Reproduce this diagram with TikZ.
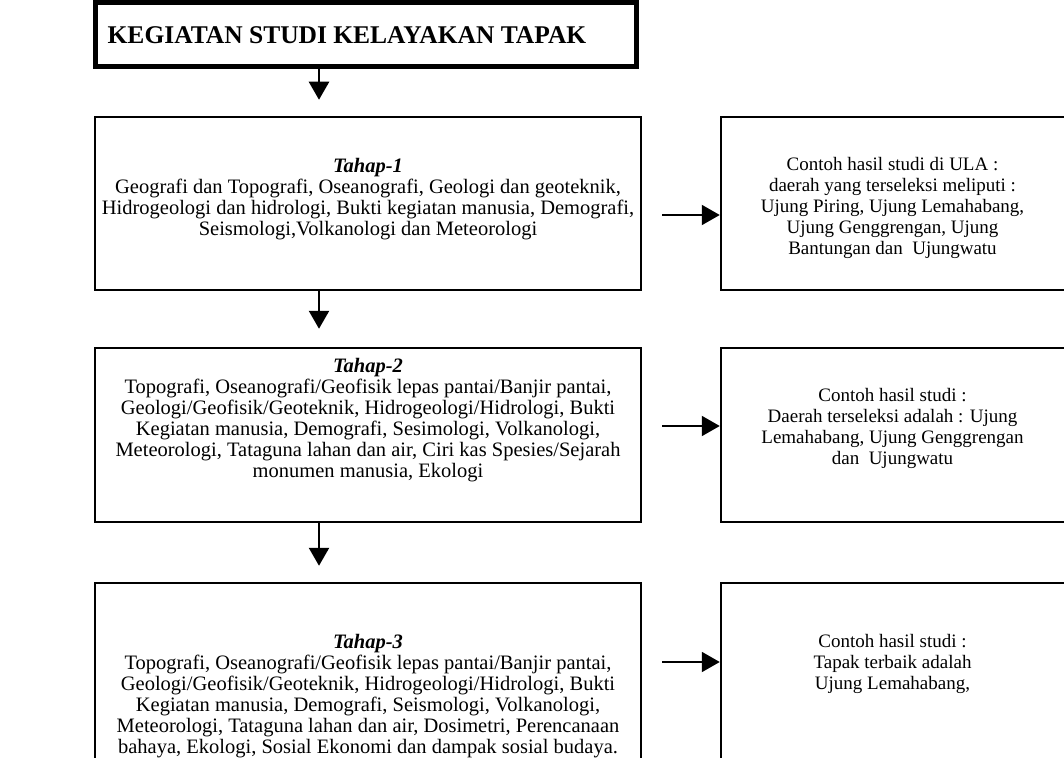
\documentclass[tikz,border=0pt]{standalone}
\usepackage{fontspec}
\setmainfont{Liberation Serif}
\usetikzlibrary{arrows.meta}
\begin{document}
\begin{tikzpicture}[x=1pt,y=1pt,
  frame/.style={draw=black, line width=2.5pt, inner sep=0pt},
  body/.style={align=center, font=\fontsize{20.5}{21}\selectfont, inner sep=0pt},
  side/.style={align=center, font=\fontsize{19}{21}\selectfont, inner sep=0pt},
  vconn/.style={line width=2.5pt, -{Triangle[width=20pt,length=18pt]}},
  hconn/.style={line width=2pt, -{Triangle[width=20pt,length=18pt]}}
]
\useasboundingbox (0,0) rectangle (1064,-757);
\clip (0,0) rectangle (1064,-757);

% title
\node[frame, line width=5pt, minimum width=541pt, minimum height=64pt] (title) at (365.5,-35) {};
\node[font=\fontsize{25.5}{28}\selectfont\bfseries, inner sep=0pt] (titletxt) at (347,-35) {KEGIATAN STUDI KELAYAKAN TAPAK};

% left column boxes
\node[frame, minimum width=546pt, minimum height=173pt] (t1) at (368,-203.5) {};
\node[frame, minimum width=546pt, minimum height=174pt] (t2) at (368,-435) {};
\node[frame, minimum width=546pt, minimum height=217pt] (t3) at (368,-691.5) {};

% right column boxes
\node[frame, minimum width=349pt, minimum height=173pt] (r1) at (895.5,-203.5) {};
\node[frame, minimum width=349pt, minimum height=174pt] (r2) at (895.5,-435) {};
\node[frame, minimum width=349pt, minimum height=217pt] (r3) at (895.5,-691.5) {};

% texts
\node[body] (t1txt) at (368,-199.5) {\textbf{\textit{Tahap-1}}\\
Geografi dan Topografi, Oseanografi, Geologi dan geoteknik,\\
Hidrogeologi dan hidrologi, Bukti kegiatan manusia, Demografi,\\
Seismologi,Volkanologi dan Meteorologi};

\node[body] (t2txt) at (368,-420.5) {\textbf{\textit{Tahap-2}}\\
Topografi, Oseanografi/Geofisik lepas pantai/Banjir pantai,\\
Geologi/Geofisik/Geoteknik, Hidrogeologi/Hidrologi, Bukti\\
Kegiatan manusia, Demografi, Sesimologi, Volkanologi,\\
Meteorologi, Tataguna lahan dan air, Ciri kas Spesies/Sejarah\\
monumen manusia, Ekologi};

\node[body] (t3txt) at (368,-696) {\textbf{\textit{Tahap-3}}\\
Topografi, Oseanografi/Geofisik lepas pantai/Banjir pantai,\\
Geologi/Geofisik/Geoteknik, Hidrogeologi/Hidrologi, Bukti\\
Kegiatan manusia, Demografi, Seismologi, Volkanologi,\\
Meteorologi, Tataguna lahan dan air, Dosimetri, Perencanaan\\
bahaya, Ekologi, Sosial Ekonomi dan dampak sosial budaya.};

\node[side] (r1txt) at (892.5,-207.5) {Contoh hasil studi di ULA :\\
daerah yang terseleksi meliputi :\\
Ujung Piring, Ujung Lemahabang,\\
Ujung Genggrengan, Ujung\\
Bantungan dan~ Ujungwatu};

\node[side] (r2txt) at (892.5,-428) {Contoh hasil studi :\\
Daerah terseleksi adalah : Ujung\\
Lemahabang, Ujung Genggrengan\\
dan~ Ujungwatu};

\node[side] (r3txt) at (892.5,-664) {Contoh hasil studi :\\
Tapak terbaik adalah\\
Ujung Lemahabang,};

% vertical connectors
\coordinate (vx) at (319,0);
\draw[vconn, shorten >=16pt] (title.south -| vx) -- (t1.north -| vx);
\draw[vconn, shorten >=18pt] (t1.south -| vx) -- (t2.north -| vx);
\draw[vconn, shorten >=16pt] (t2.south -| vx) -- (t3.north -| vx);

% horizontal connectors
\coordinate (h1) at (662,-215);
\coordinate (h2) at (662,-426);
\coordinate (h3) at (662,-662);
\draw[hconn] (h1) -- (h1 -| r1.west);
\draw[hconn] (h2) -- (h2 -| r2.west);
\draw[hconn] (h3) -- (h3 -| r3.west);
\end{tikzpicture}
\end{document}
